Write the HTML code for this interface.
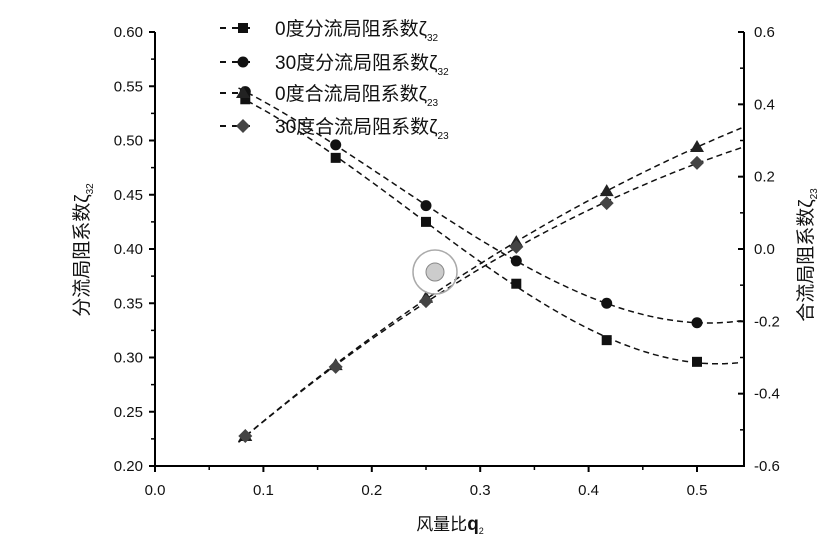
<!DOCTYPE html>
<html><head><meta charset="utf-8"><style>
body{margin:0;background:#fff}
svg text{font-family:"Liberation Sans","Noto Sans CJK SC",sans-serif;fill:#111}
</style></head><body>
<svg id="c" width="838" height="550" xmlns="http://www.w3.org/2000/svg"></svg>
<script>
const xs=[0.0833,0.1667,0.25,0.3333,0.4167,0.5];
const s0fen=[0.538,0.484,0.425,0.368,0.316,0.296];
const s30fen=[0.545,0.496,0.440,0.389,0.350,0.332];
const s0he=[-0.517,-0.321,-0.135,0.019,0.160,0.282];
const s30he=[-0.517,-0.326,-0.144,0.006,0.127,0.238];
const xTicks=[0,0.1,0.2,0.3,0.4,0.5];
const yLTicks=[0.20,0.25,0.30,0.35,0.40,0.45,0.50,0.55,0.60];
const yRTicks=[-0.6,-0.4,-0.2,0.0,0.2,0.4,0.6];
const L=155,R=744,T=32,B=466;
const X=v=>L+v*1084;
const YL=v=>B-(v-0.2)/0.4*(B-T);
const YR=v=>B-(v+0.6)/1.2*(B-T);
const svg=document.getElementById('c');
const NS='http://www.w3.org/2000/svg';
function el(t,a,p){const e=document.createElementNS(NS,t);for(const k in a)e.setAttribute(k,a[k]);(p||svg).appendChild(e);return e;}
let ax=el('path',{d:`M${L},${T}V${B}H${R}V${T}`,fill:'none',stroke:'#000','stroke-width':2});

xTicks.forEach(v=>{el('line',{x1:X(v),x2:X(v),y1:B,y2:B+6,stroke:'#000','stroke-width':2});
 const t=el('text',{x:X(v),y:B+29,'text-anchor':'middle','font-size':15});t.textContent=v.toFixed(1);
 
 if(X(v+0.05)<R)el('line',{x1:X(v+0.05),x2:X(v+0.05),y1:B,y2:B+4,stroke:'#000','stroke-width':1.5});});
yLTicks.forEach((v,i)=>{el('line',{x1:L-6,x2:L,y1:YL(v),y2:YL(v),stroke:'#000','stroke-width':2});
 const t=el('text',{x:L-12,y:YL(v)+5,'text-anchor':'end','font-size':15});t.textContent=v.toFixed(2);
 
 if(i<yLTicks.length-1)el('line',{x1:L-4,x2:L,y1:YL(v+0.025),y2:YL(v+0.025),stroke:'#000','stroke-width':1.5});});
yRTicks.forEach((v,i)=>{el('line',{x1:R-6,x2:R,y1:YR(v),y2:YR(v),stroke:'#000','stroke-width':2});
 const t=el('text',{x:R+10,y:YR(v)+5,'font-size':15});t.textContent=v.toFixed(1);
 
 if(i<yRTicks.length-1)el('line',{x1:R-4,x2:R,y1:YR(v+0.1),y2:YR(v+0.1),stroke:'#000','stroke-width':1.5});});
function polyfit(x,y,deg){const n=deg+1;const M=[];for(let i=0;i<n;i++){M.push(new Array(n+1).fill(0));}
 x.forEach((xi,p)=>{for(let i=0;i<n;i++){for(let j=0;j<n;j++)M[i][j]+=xi**(i+j);M[i][n]+=y[p]*xi**i;}});
 for(let i=0;i<n;i++){for(let j=i+1;j<n;j++){const f=M[j][i]/M[i][i];for(let k=i;k<=n;k++)M[j][k]-=f*M[i][k];}}
 const c=new Array(n).fill(0);for(let i=n-1;i>=0;i--){let s=M[i][n];for(let k=i+1;k<n;k++)s-=M[i][k]*c[k];c[i]=s/M[i][i];}return c;}
const pv=(c,v)=>c.reduce((s,ci,i)=>s+ci*v**i,0);
function marker(type,cx,cy,g,col){
 if(type=='sq')el('rect',{x:cx-5,y:cy-5,width:10,height:10,fill:col},g);
 else if(type=='ci')el('circle',{cx,cy,r:5.5,fill:col},g);
 else if(type=='tr')el('path',{d:`M${cx},${cy-7}L${cx+7},${cy+5}L${cx-7},${cy+5}Z`,fill:col},g);
 else el('path',{d:`M${cx},${cy-7}L${cx+7},${cy}L${cx},${cy+7}L${cx-7},${cy}Z`,fill:col},g);}
const series=[[s0fen,YL,'sq','#111','series-0deg-branch'],[s30fen,YL,'ci','#111','series-30deg-branch'],[s0he,YR,'tr','#222','series-0deg-merge'],[s30he,YR,'di','#444','series-30deg-merge']];
series.forEach(([ys,Y,m,col,name])=>{const g=el('g',{});
 const c=polyfit(xs,ys,3);let d='';for(let v=0.077;v<=0.5435;v+=0.004){d+=(d?'L':'M')+X(v).toFixed(1)+','+Y(pv(c,v)).toFixed(1);}
 el('path',{d,fill:'none',stroke:'#111','stroke-width':1.5,'stroke-dasharray':'6,4'},g);
 xs.forEach((v,i)=>marker(m,X(v),Y(ys[i]),g,col));});
const leg=[['sq','#111','0度分流局阻系数ζ','32'],['ci','#111','30度分流局阻系数ζ','32'],['tr','#222','0度合流局阻系数ζ','23'],['di','#444','30度合流局阻系数ζ','23']];
const ly=[28,62,93,126];
leg.forEach((l,i)=>{const g=el('g',{});
 el('line',{x1:220,x2:256,y1:ly[i],y2:ly[i],stroke:'#111','stroke-width':2,'stroke-dasharray':'6,6'},g);
 marker(l[0],243,ly[i],g,l[1]);
 const t=el('text',{x:275,y:ly[i]+7,'font-size':19},g);t.textContent=l[2];
 const s=el('tspan',{'font-size':10,dy:6},t);s.textContent=l[3];});
el('circle',{cx:435,cy:272,r:22,fill:'none',stroke:'#aaa','stroke-width':1.5});
el('circle',{cx:435,cy:272,r:9,fill:'#ccc',stroke:'#888'});
let t=el('text',{x:450,y:530,'text-anchor':'middle','font-size':17});t.textContent='风量比';

let q=el('tspan',{'font-weight':'bold','font-size':19},t);q.textContent='q';let q2=el('tspan',{'font-size':9,dy:4},t);q2.textContent='2';
t=el('text',{x:0,y:0,'text-anchor':'middle','font-size':19,transform:'translate(88,250) rotate(-90)'});t.textContent='分流局阻系数ζ';

q=el('tspan',{'font-size':10,dy:5},t);q.textContent='32';
t=el('text',{x:0,y:0,'text-anchor':'middle','font-size':19,transform:'translate(812,255) rotate(-90)'});t.textContent='合流局阻系数ζ';

q=el('tspan',{'font-size':10,dy:5},t);q.textContent='23';
</script>
</body></html>
